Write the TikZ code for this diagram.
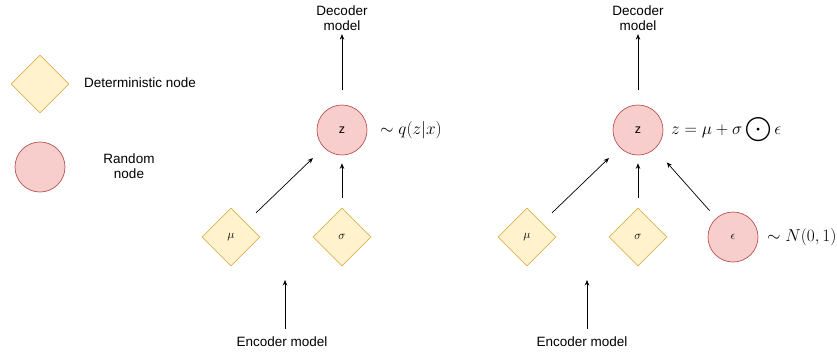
\documentclass[tikz,border=0pt]{standalone}
\usepackage{fontspec}
\setmainfont{Liberation Sans}
\usepackage{amsmath}
\usetikzlibrary{shapes.geometric,arrows.meta}
\definecolor{detfill}{HTML}{FFF2CC}
\definecolor{detdraw}{HTML}{D6B656}
\definecolor{rndfill}{HTML}{F8CECC}
\definecolor{rnddraw}{HTML}{B85450}
\tikzset{
  detnode/.style={diamond, fill=detfill, draw=detdraw, line width=0.7pt,
    minimum width=58pt, minimum height=58pt, inner sep=0pt, font=\fontsize{12.5}{14}\selectfont},
  rndnode/.style={circle, fill=rndfill, draw=rnddraw, line width=0.7pt,
    minimum size=50pt, inner sep=0pt, font=\fontsize{12.5}{14}\selectfont},
  lbl/.style={font=\fontsize{13.5}{15}\selectfont, align=center, inner sep=0pt},
  mathlbl/.style={font=\fontsize{16.5}{18}\selectfont, anchor=west, inner sep=0pt},
  conn/.style={-{Stealth[length=5.5pt,width=4.5pt]}, line width=0.7pt, black},
}
\begin{document}
\begin{tikzpicture}[x=1pt,y=-1pt]
\useasboundingbox (0,0) rectangle (837,354);

% legend
\node[detnode] (legdet) at (40,84) {};
\node[lbl] (legdettxt) at (140,83) {Deterministic node};
\node[rndnode] (legrnd) at (40,167) {};
\node[lbl] (legrndtxt) at (129,166) {Random\\node};

% left graph: z drawn directly from q(z|x)
\node[lbl] (dec1) at (342,18.5) {Decoder\\model};
\node[rndnode] (z1) at (342,130) {z};
\node[mathlbl] (q1) at (380,130) {$\sim q(z|x)$};
\node[detnode] (mu1) at (231,237) {$\mu$};
\node[detnode] (sg1) at (342,237) {$\sigma$};
\node[lbl] (enc1) at (282,342) {Encoder model};
\coordinate (enc1top) at (285,280);

\draw[conn, shorten <=14pt, shorten >=15pt] (mu1) -- (z1);
\draw[conn, shorten <=10pt, shorten >=8pt] (sg1) -- (z1);
\draw[conn, shorten <=15pt, shorten >=3pt] (z1) -- (dec1);
\draw[conn] (enc1.north -| enc1top) ++(0,-8) -- (enc1top);

% right graph: reparameterised z
\node[lbl] (dec2) at (638,18.5) {Decoder\\model};
\node[rndnode] (z2) at (638,130) {z};
\node[mathlbl] (f2) at (671,130) {$z=\mu+\sigma\mathop{\displaystyle\bigodot}\epsilon$};
\node[detnode] (mu2) at (527,237) {$\mu$};
\node[detnode] (sg2) at (638,237) {$\sigma$};
\node[rndnode] (ep2) at (733,237) {$\epsilon$};
\node[mathlbl] (n2) at (767,237) {$\sim N(0,1)$};
\node[lbl] (enc2) at (582,342) {Encoder model};
\coordinate (enc2top) at (587,280);

\draw[conn, shorten <=14pt, shorten >=15pt] (mu2) -- (z2);
\draw[conn, shorten <=10pt, shorten >=8pt] (sg2) -- (z2);
\draw[conn, shorten <=10pt, shorten >=18pt] (ep2) -- (z2);
\draw[conn, shorten <=15pt, shorten >=3pt] (z2) -- (dec2);
\draw[conn] (enc2.north -| enc2top) ++(0,-8) -- (enc2top);
\end{tikzpicture}
\end{document}
